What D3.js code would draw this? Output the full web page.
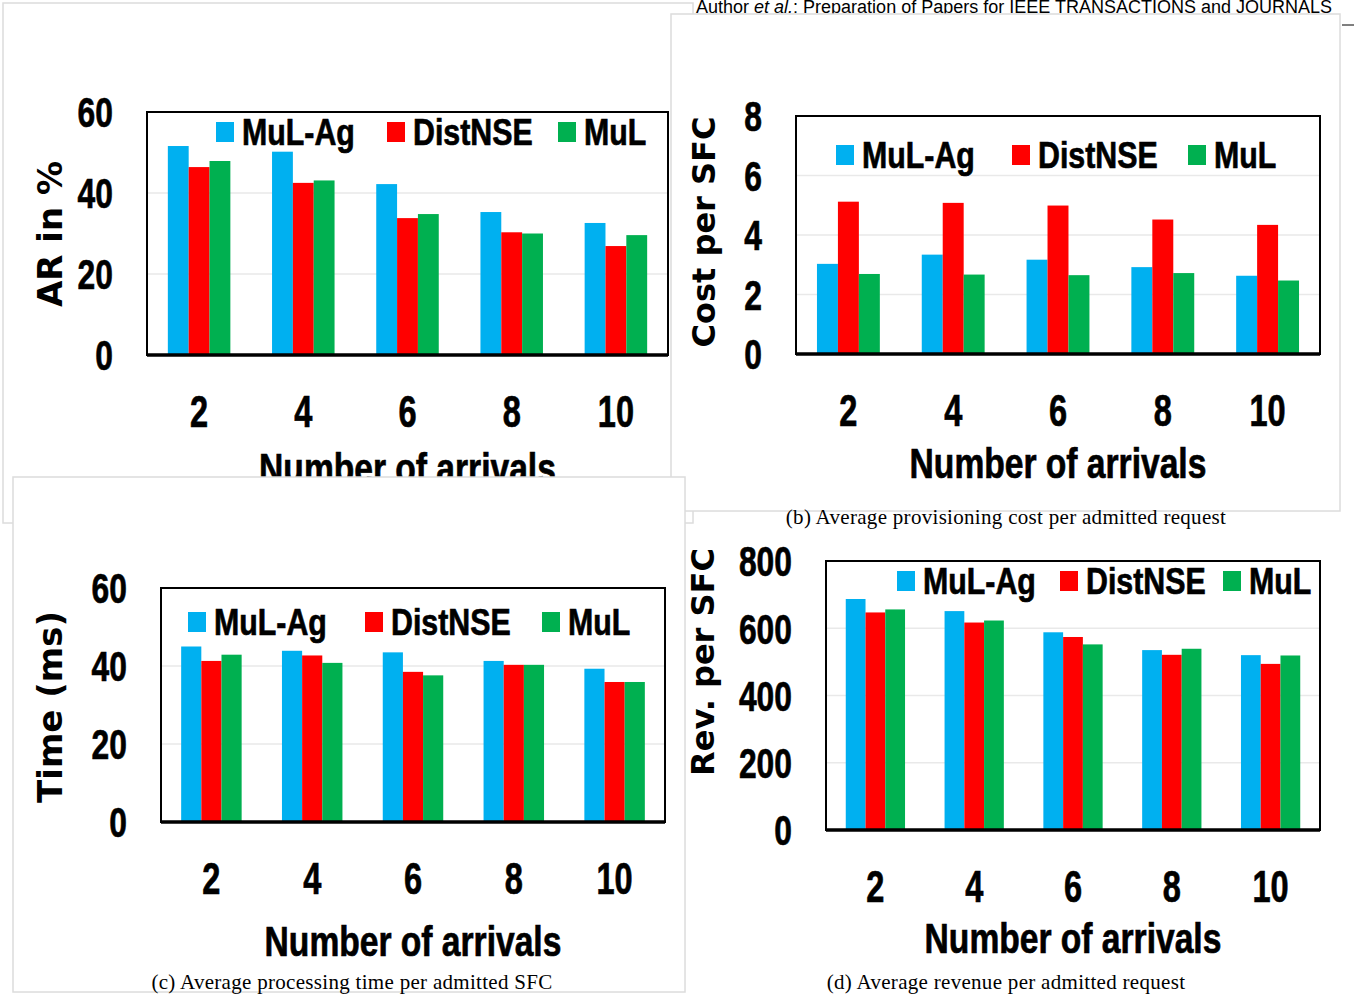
<!DOCTYPE html>
<meta charset="utf-8">
<style>
  body { margin: 0; background: #fff; }
  .num { font-family: "Liberation Sans", Arial, sans-serif; font-weight: bold; fill: #000; stroke: #000; stroke-width: 0.7px; }
  .ytitle { font-family: "DejaVu Sans", Verdana, sans-serif; font-weight: bold; fill: #000; }
  .caption { font-family: "Liberation Serif", "Times New Roman", serif; font-size: 21px; letter-spacing: 0.3px; fill: #000; }
  .frame { fill: #fff; stroke: #dcdcdc; stroke-width: 1.5px; }
  .grid { stroke: #e9e9e9; stroke-width: 1.5px; }
</style>
<body>
<script src="https://d3js.org/d3.v7.min.js"></script>
<script>
// categories and series
var arrivals = ["2", "4", "6", "8", "10"];
var seriesNames = ["MuL-Ag", "DistNSE", "MuL"];
var seriesColors = ["#00b0f0", "#ff0000", "#00b050"];

// (a) acceptance ratio
var arTicks = [0, 20, 40, 60];
var arMulAg   = [51.6, 50.2, 42.2, 35.3, 32.6];
var arDistNSE = [46.4, 42.5, 33.8, 30.3, 26.9];
var arMul     = [47.9, 43.1, 34.8, 30.0, 29.6];

// (b) cost per SFC
var costTicks = [0, 2, 4, 6, 8];
var costMulAg   = [3.03, 3.34, 3.17, 2.92, 2.63];
var costDistNSE = [5.12, 5.08, 4.99, 4.52, 4.34];
var costMul     = [2.69, 2.67, 2.65, 2.72, 2.47];

// (c) processing time
var timeTicks = [0, 20, 40, 60];
var timeMulAg   = [45.0, 43.9, 43.5, 41.3, 39.3];
var timeDistNSE = [41.3, 42.7, 38.5, 40.3, 35.9];
var timeMul     = [42.9, 40.8, 37.6, 40.3, 35.9];

// (d) revenue per SFC
var revTicks = [0, 200, 400, 600, 800];
var revMulAg   = [687, 651, 588, 535, 520];
var revDistNSE = [647, 617, 574, 521, 494];
var revMul     = [656, 623, 552, 539, 519];

var svg = d3.select("body").append("svg")
    .attr("width", 1359)
    .attr("height", 998);

// no narrow font installed, so squeeze bold sans horizontally
function narrowText(sel, x, y, size, sx, anchor, str) {
  return sel.append("text").attr("class", "num")
    .attr("transform", "translate(" + x + "," + y + ") scale(" + sx + ",1)")
    .attr("dy", "0.36em")
    .style("font-size", size + "px")
    .style("text-anchor", anchor)
    .text(str);
}

// page header
var header = svg.append("text")
    .attr("x", 696).attr("y", 13)
    .style("font-family", "'Liberation Sans', Arial, sans-serif")
    .style("font-size", "18px");
header.append("tspan").text("Author ");
header.append("tspan").style("font-style", "italic").text("et al.");
header.append("tspan").text(": Preparation of Papers for IEEE TRANSACTIONS and JOURNALS");
svg.append("line").attr("x1", 1342).attr("x2", 1354).attr("y1", 25).attr("y2", 25)
    .style("stroke", "#000").style("stroke-width", 1);

// panel settings (layout only)
var panels = [
  { frame: [3, 3, 690, 520], box: [147, 112, 668, 355], ticks: arTicks,
    values: [arMulAg, arDistNSE, arMul], yTitle: "AR in %", yTitleSize: 34, yTitleX: 50, yTitleY: 234,
    xTitleY: 468, legX: 216, legStep: 171, legY: 132 },
  { frame: [671, 14, 669, 497], box: [796, 116, 1320, 354], ticks: costTicks,
    values: [costMulAg, costDistNSE, costMul], yTitle: "Cost per SFC", yTitleSize: 32, yTitleX: 703, yTitleY: 232,
    xTitleY: 463, legX: 836, legStep: 176, legY: 155,
    caption: "(b)  Average provisioning cost per admitted request", capX: 1006, capY: 524 },
  { frame: [13, 477, 672, 515], box: [161, 588, 665, 822], ticks: timeTicks,
    values: [timeMulAg, timeDistNSE, timeMul], yTitle: "Time (ms)", yTitleSize: 34, yTitleX: 50, yTitleY: 707,
    xTitleY: 941, legX: 188, legStep: 177, legY: 622,
    caption: "(c)  Average processing time per admitted SFC", capX: 352, capY: 989 },
  { frame: null, box: [826, 561, 1320, 830], ticks: revTicks,
    values: [revMulAg, revDistNSE, revMul], yTitle: "Rev. per SFC", yTitleSize: 32, yTitleX: 702, yTitleY: 662,
    xTitleY: 938, legX: 897, legStep: 163, legY: 581,
    caption: "(d)  Average revenue per admitted request", capX: 1006, capY: 989 }
];

panels.forEach(function(p) {
  var g = svg.append("g");
  if (p.frame) {
    g.append("rect").attr("class", "frame")
      .attr("x", p.frame[0]).attr("y", p.frame[1])
      .attr("width", p.frame[2]).attr("height", p.frame[3]);
  }
  var x0 = p.box[0], y0 = p.box[1], x1 = p.box[2], y1 = p.box[3];

  var x = d3.scaleBand().domain(arrivals).range([x0, x1])
      .paddingInner(0.4).paddingOuter(0.2);
  var xs = d3.scaleBand().domain(seriesNames).range([0, x.bandwidth()]);
  var y = d3.scaleLinear().domain([0, d3.max(p.ticks)]).range([y1, y0]);

  // gridlines
  g.selectAll(".grid").data(p.ticks.slice(1, -1)).enter().append("line")
    .attr("class", "grid")
    .attr("x1", x0).attr("x2", x1)
    .attr("y1", function(d) { return y(d); })
    .attr("y2", function(d) { return y(d); });

  // bars
  seriesNames.forEach(function(s, si) {
    g.selectAll(".bar" + si).data(p.values[si]).enter().append("rect")
      .attr("x", function(d, i) { return x(arrivals[i]) + xs(s); })
      .attr("y", function(d) { return y(d); })
      .attr("width", xs.bandwidth())
      .attr("height", function(d) { return y(0) - y(d); })
      .style("fill", seriesColors[si]);
  });

  // plot box
  g.append("rect")
    .attr("x", x0).attr("y", y0).attr("width", x1 - x0).attr("height", y1 - y0)
    .style("fill", "none").style("stroke", "#000").style("stroke-width", 2);
  g.append("line").attr("x1", x0).attr("x2", x1).attr("y1", y1).attr("y2", y1)
    .style("stroke", "#000").style("stroke-width", 3.5);

  // y tick labels
  p.ticks.forEach(function(t) {
    narrowText(g, x0 - 34, y(t), 43, 0.74, "end", t);
  });

  // x tick labels
  arrivals.forEach(function(a) {
    narrowText(g, x(a) + x.bandwidth() / 2, y1 + 56, 44, 0.74, "middle", a);
  });

  // x title
  narrowText(g, (x0 + x1) / 2, p.xTitleY, 42, 0.8, "middle", "Number of arrivals");

  // y title
  g.append("text").attr("class", "ytitle")
    .attr("transform", "translate(" + p.yTitleX + "," + p.yTitleY + ") rotate(-90)")
    .attr("dy", "0.36em")
    .style("font-size", p.yTitleSize + "px")
    .style("text-anchor", "middle")
    .text(p.yTitle);

  // legend
  seriesNames.forEach(function(s, i) {
    var lx = p.legX + i * p.legStep;
    g.append("rect").attr("x", lx).attr("y", p.legY - 10).attr("width", 18).attr("height", 20)
      .style("fill", seriesColors[i]);
    narrowText(g, lx + 26, p.legY, 37, 0.82, "start", s);
  });

  if (p.caption) {
    g.append("text").attr("class", "caption")
      .attr("x", p.capX).attr("y", p.capY)
      .style("text-anchor", "middle")
      .text(p.caption);
  }
});
</script>
</body>
